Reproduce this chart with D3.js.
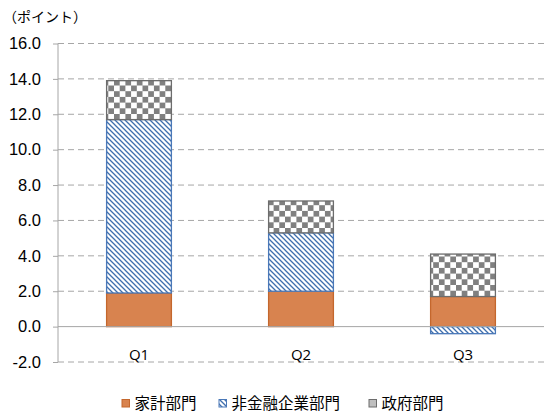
<!DOCTYPE html>
<html><head><meta charset="utf-8">
<script src="https://cdn.jsdelivr.net/npm/d3@7"></script>
<style>body{margin:0;background:#fff}svg{display:block}
.yt text{font-family:'Liberation Sans',Arial,sans-serif;font-size:16.5px;fill:#000}</style>
</head><body>
<script>
const categories = ["Q1","Q2","Q3"];
const household = [1.9, 2.0, 1.7];
const nonfinancial = [9.8, 3.3, -0.4];
const government = [2.2, 1.8, 2.4];
const seriesNames = ["家計部門","非金融企業部門","政府部門"];
const yTicks = [-2,0,2,4,6,8,10,12,14,16];

const W=545,H=412;
const svg=d3.select("body").append("svg").attr("width",W).attr("height",H);
const defs=svg.append("defs");
const hs=5;
const hp=defs.append("pattern").attr("id","hatch").attr("patternUnits","userSpaceOnUse").attr("width",hs).attr("height",hs);
hp.append("rect").attr("width",hs).attr("height",hs).attr("fill","#fff");
hp.append("path").attr("d",`M-1,-1 L${hs+1},${hs+1} M-1,${hs-1} L1,${hs+1} M${hs-1},-1 L${hs+1},1`).attr("stroke","#3f6fae").attr("stroke-width",1.3);
const cs=5.7;
const cp=defs.append("pattern").attr("id","check").attr("patternUnits","userSpaceOnUse").attr("width",cs*2).attr("height",cs*2);
cp.append("rect").attr("width",cs*2).attr("height",cs*2).attr("fill","#fff");
cp.append("rect").attr("width",cs).attr("height",cs).attr("fill","#808080");
cp.append("rect").attr("x",cs).attr("y",cs).attr("width",cs).attr("height",cs).attr("fill","#808080");

const x0=58,x1=544;
const x=d3.scaleBand().domain(categories).range([x0,x1]).paddingInner(0.6).paddingOuter(0.3);
const y=d3.scaleLinear().domain([-2,16]).range([362,43.5]);

svg.append("g").selectAll("line").data(yTicks.filter(d=>d!==0)).join("line")
 .attr("x1",x0).attr("x2",x1).attr("y1",d=>y(d)).attr("y2",d=>y(d))
 .attr("stroke","#a6a6a6").attr("stroke-width",1).attr("stroke-dasharray","6,4");

const ya=svg.append("g").attr("class","yt").attr("transform",`translate(${x0},0)`)
 .call(d3.axisLeft(y).tickValues(yTicks).tickFormat(d=>d.toFixed(1)).tickSize(5).tickPadding(12));
ya.select(".domain").attr("stroke","#a6a6a6").attr("d",`M-0,${y(16)}V${y(-2)}`);
ya.selectAll(".tick line").attr("stroke","#a6a6a6");

const data=categories.map((c,i)=>({c,vals:[household[i],nonfinancial[i],government[i]]}));
const fills=["#d8834f","url(#hatch)","url(#check)"];
const strokes=["#c4672d","#4a78b8","#6d6d6d"];
data.forEach(d=>{
  let pos=0,neg=0;
  d.vals.forEach((v,k)=>{
    let a,b;
    if(v>=0){a=pos;b=pos+v;pos=b;}else{a=neg+v;b=neg;neg=a;}
    svg.append("rect").attr("x",x(d.c)).attr("width",x.bandwidth())
     .attr("y",y(b)).attr("height",y(a)-y(b))
     .attr("fill",fills[k]).attr("stroke",strokes[k]).attr("stroke-width",1.3);
  });
});

svg.append("line").attr("x1",x0).attr("x2",x1).attr("y1",y(0)).attr("y2",y(0)).attr("stroke","#a6a6a6");

svg.append("g").selectAll("text").data(categories).join("text")
 .attr("x",d=>x(d)+x.bandwidth()/2).attr("y",360).attr("text-anchor","middle")
 .attr("font-family","'Open Sans', 'Liberation Sans', sans-serif").attr("font-size",15).text(d=>d);

svg.append("text").attr("x",3).attr("y",22).attr("font-family","'Noto Sans CJK JP'").attr("font-size",14).text("（ポイント）");

const lx=[122,219,369];
seriesNames.forEach((n,k)=>{
  svg.append("rect").attr("x",lx[k]).attr("y",399.5).attr("width",7.5).attr("height",7.5)
   .attr("fill",k==0?"#d8834f":k==1?"url(#hatch)":"#bfbfbf").attr("stroke",strokes[k]).attr("stroke-width",1);
  svg.append("text").attr("x",lx[k]+12.5).attr("y",408.5).attr("font-family","'Noto Sans CJK JP'").attr("font-size",15.5).text(n);
});
</script>
</body></html>
